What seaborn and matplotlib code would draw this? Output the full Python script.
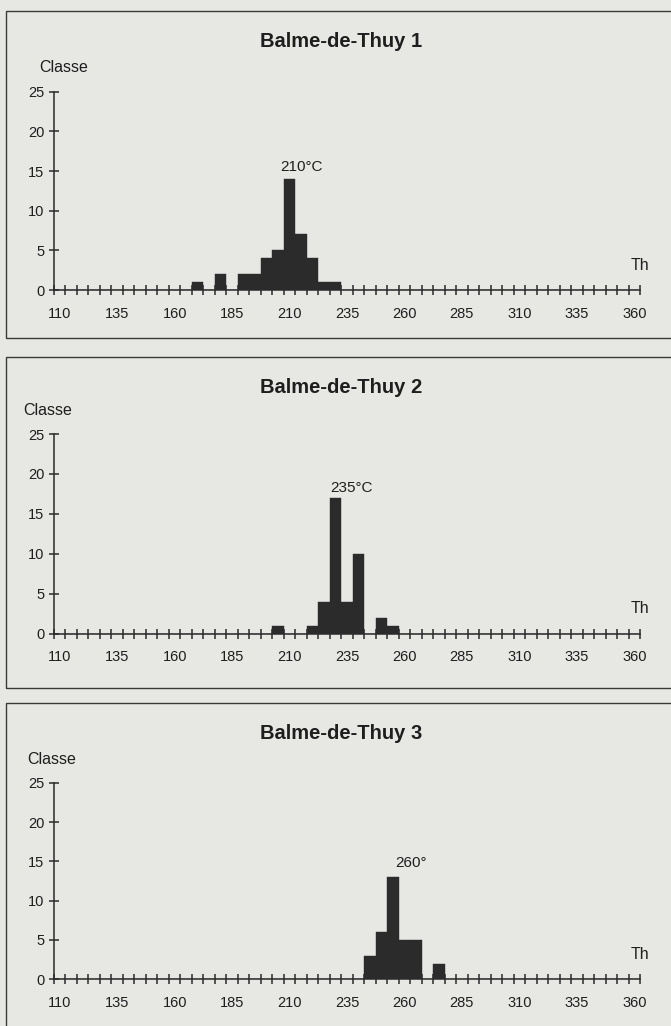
import matplotlib
matplotlib.use("Agg")
import matplotlib.pyplot as plt
from matplotlib.patches import Rectangle
from matplotlib.ticker import MultipleLocator, FixedLocator
import seaborn as sns
import pandas as pd

# ---------------- data ----------------
titles = ["Balme-de-Thuy 1", "Balme-de-Thuy 2", "Balme-de-Thuy 3"]

th1 = [170, 180, 190, 195, 200, 205, 210, 215, 220, 225, 230]
n1 = [1, 2, 2, 2, 4, 5, 14, 7, 4, 1, 1]

th2 = [205, 220, 225, 230, 235, 240, 250, 255]
n2 = [1, 1, 4, 17, 4, 10, 2, 1]

th3 = [245, 250, 255, 260, 265, 275]
n3 = [3, 6, 13, 5, 5, 2]

peak_labels = ["210°C", "235°C", "260°"]
x_tick_labels = [110, 135, 160, 185, 210, 235, 260, 285, 310, 335, 360]
y_ticks = [0, 5, 10, 15, 20, 25]
x_name = "Th"
y_name = "Classe"

series = [(th1, n1), (th2, n2), (th3, n3)]

# ---------------- style ----------------
sns.set_style("white")
plt.rcParams["font.family"] = ["Liberation Sans", "DejaVu Sans"]
BG = "#e7e7e4"
INK = "#2b2b2b"

W, H = 671, 1026
fig = plt.figure(figsize=(W / 100, H / 100), dpi=100, facecolor=BG)

# layout in pixels (from top)
axes_px = [(290.0, 91.7), (633.7, 434.0), (979.3, 782.7)]   # (y of 0, y of 25)
box_px = [(10.7, 338.0), (356.7, 688.0), (703.3, 1035.0)]
title_y = [41.7, 387.7, 733.3]
classe_x = [111.9, 104.9, 106.6]
peak_pos = [(215.2, 15.5), (236.8, 18.2), (263.0, 14.8)]
left_px, right_px = 54.0, 640.0

for i, ((th, n), (y0, y25)) in enumerate(zip(series, axes_px)):
    # panel frame
    top, bot = box_px[i]
    fig.patches.append(Rectangle((6 / W, 1 - bot / H), 1.0, (bot - top) / H,
                                 transform=fig.transFigure, fill=False,
                                 edgecolor="#3a3a3a", linewidth=1.0))
    ax = fig.add_axes([left_px / W, 1 - y0 / H,
                       (right_px - left_px) / W, (y0 - y25) / H])
    ax.set_facecolor("none")
    df = pd.DataFrame({"Th": th, "n": n})
    sns.histplot(data=df, x="Th", weights="n", binwidth=5,
                 binrange=(107.5, 362.5), color=INK, alpha=1,
                 edgecolor=INK, linewidth=0.3, ax=ax, zorder=3)
    ax.set_xlim(107.5, 362.5)
    ax.set_ylim(0, 25)
    ax.set_xlabel("")
    ax.set_ylabel("")
    for s in ["top", "right"]:
        ax.spines[s].set_visible(False)
    for s in ["left", "bottom"]:
        ax.spines[s].set_color(INK)
        ax.spines[s].set_linewidth(1.1)
        ax.spines[s].set_zorder(2)
    ax.set_axisbelow(True)
    ax.xaxis.set_major_locator(FixedLocator(x_tick_labels))
    ax.set_xticklabels([str(v) for v in x_tick_labels])
    ax.xaxis.set_minor_locator(MultipleLocator(5, offset=2.5))
    ax.set_yticks(y_ticks)
    ax.set_yticklabels([str(v) for v in y_ticks])
    ax.tick_params(axis="x", which="both", bottom=True, top=False)
    ax.tick_params(axis="y", which="both", left=True, right=False)
    ax.tick_params(axis="x", which="major", length=0, pad=12,
                   labelsize=10.5, labelcolor="#1e1e1e")
    ax.tick_params(axis="x", which="minor", direction="inout", length=6.5,
                   width=1.1, color=INK)
    ax.tick_params(axis="y", which="minor", length=0)
    ax.tick_params(axis="y", which="major", direction="inout", length=7.7,
                   width=1.1, color=INK, pad=3, labelsize=10.5,
                   labelcolor="#1e1e1e")
    for t in ax.xaxis.get_minor_ticks() + ax.yaxis.get_major_ticks():
        t.tick1line.set_clip_on(False)

    ax.text(362.5, 3.1, x_name, ha="center", va="center", fontsize=11.5,
            color="#1e1e1e", clip_on=False)
    ax.text(classe_x[i], 28.0, y_name, ha="center", va="center",
            fontsize=11.5, color="#1e1e1e", clip_on=False)
    px, py = peak_pos[i]
    ax.text(px, py, peak_labels[i], ha="center", va="center", fontsize=11,
            color="#1e1e1e", clip_on=False)
    fig.text(341 / W, 1 - title_y[i] / H, titles[i], ha="center",
             va="center", fontsize=14.5, fontweight="bold", color="#1e1e1e")

fig.savefig("out.png", dpi=100, facecolor=BG)
